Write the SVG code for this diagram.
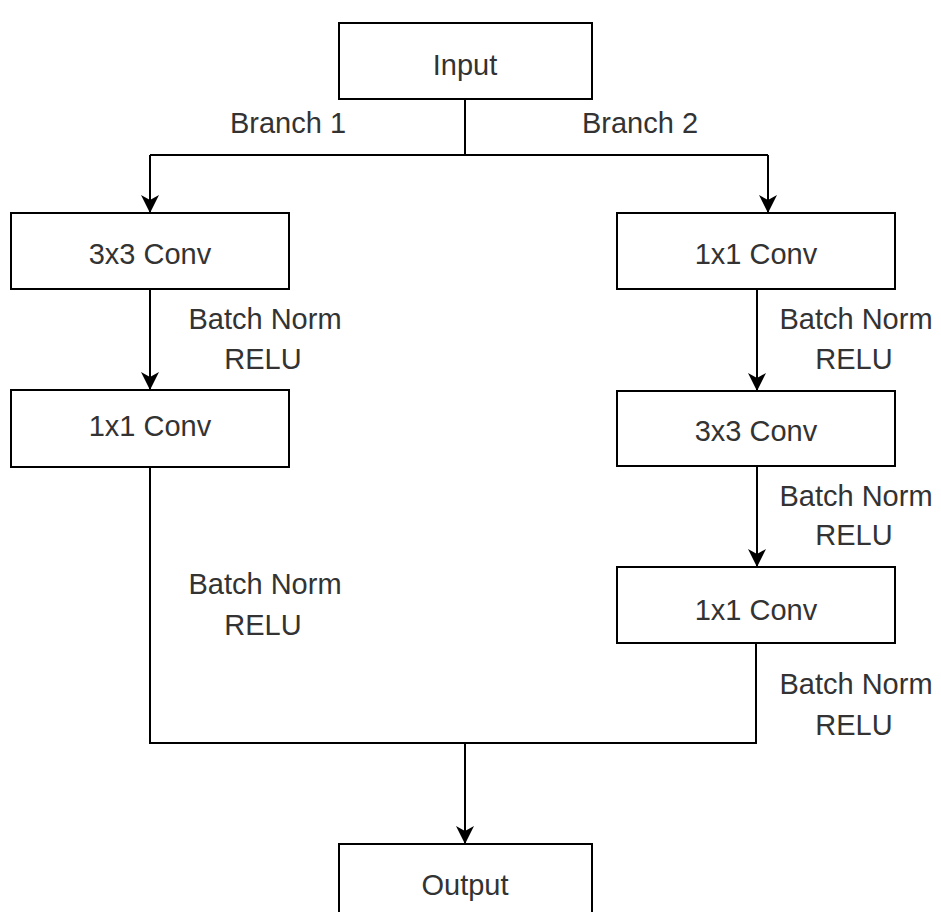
<svg xmlns="http://www.w3.org/2000/svg" width="941" height="912" viewBox="0 0 941 912">
  <style>
    .box { fill: #ffffff; stroke: #000000; stroke-width: 2; }
    .lbl { font-family: "Liberation Sans", Arial, sans-serif; font-size: 29px; fill: #333333; text-anchor: middle; }
    .edge { fill: none; stroke: #000000; stroke-width: 2; }
  </style>
  <defs>
    <marker id="arrow" viewBox="0 0 18 18" refX="18" refY="9" markerWidth="18" markerHeight="18" markerUnits="userSpaceOnUse" orient="auto">
      <path d="M0,0 L18,9 L0,18 L5,9 Z" fill="#000000"/>
    </marker>
  </defs>
  <rect width="941" height="912" fill="#ffffff"/>

  <g id="connectors">
    <path class="edge" d="M465,99 L465,155 M150,155 L768,155"/>
    <path class="edge" d="M150,155 L150,213" marker-end="url(#arrow)"/>
    <path class="edge" d="M768,155 L768,213" marker-end="url(#arrow)"/>
    <path class="edge" d="M150,289 L150,390" marker-end="url(#arrow)"/>
    <path class="edge" d="M757,289 L757,391" marker-end="url(#arrow)"/>
    <path class="edge" d="M757,466 L757,567" marker-end="url(#arrow)"/>
    <path class="edge" d="M150,467 L150,743 L756,743 L756,643"/>
    <path class="edge" d="M465,743 L465,844" marker-end="url(#arrow)"/>
  </g>

  <g id="labels">
    <text class="lbl" x="288" y="133">Branch 1</text>
    <text class="lbl" x="640" y="133">Branch 2</text>
    <text class="lbl" x="265" y="329">Batch Norm</text>
    <text class="lbl" x="263" y="369">RELU</text>
    <text class="lbl" x="265" y="594">Batch Norm</text>
    <text class="lbl" x="263" y="635">RELU</text>
    <text class="lbl" x="856" y="329">Batch Norm</text>
    <text class="lbl" x="854" y="369">RELU</text>
    <text class="lbl" x="856" y="506">Batch Norm</text>
    <text class="lbl" x="854" y="545">RELU</text>
    <text class="lbl" x="856" y="694">Batch Norm</text>
    <text class="lbl" x="854" y="735">RELU</text>
  </g>

  <g id="input">
    <rect class="box" x="339" y="23" width="253" height="76"/>
    <text class="lbl" x="465" y="75">Input</text>
  </g>
  <g id="b1-conv3x3">
    <rect class="box" x="11" y="213" width="278" height="76"/>
    <text class="lbl" x="150" y="264">3x3 Conv</text>
  </g>
  <g id="b1-conv1x1">
    <rect class="box" x="11" y="390" width="278" height="77"/>
    <text class="lbl" x="150" y="436">1x1 Conv</text>
  </g>
  <g id="b2-conv1x1-a">
    <rect class="box" x="617" y="213" width="278" height="76"/>
    <text class="lbl" x="756" y="264">1x1 Conv</text>
  </g>
  <g id="b2-conv3x3">
    <rect class="box" x="617" y="391" width="278" height="75"/>
    <text class="lbl" x="756" y="441">3x3 Conv</text>
  </g>
  <g id="b2-conv1x1-b">
    <rect class="box" x="617" y="567" width="278" height="76"/>
    <text class="lbl" x="756" y="620">1x1 Conv</text>
  </g>
  <g id="output">
    <rect class="box" x="339" y="844" width="253" height="80"/>
    <text class="lbl" x="465" y="895">Output</text>
  </g>
</svg>
